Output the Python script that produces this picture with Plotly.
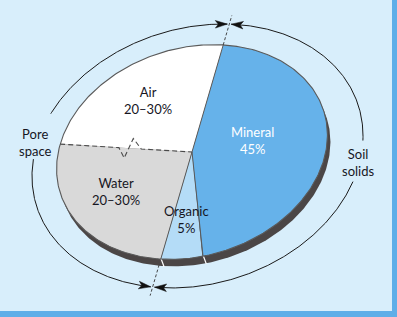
import numpy as np
import plotly.graph_objects as go

# ---- data ----
components = ["Mineral", "Organic", "Water", "Air"]
shares = [45, 5, 25, 25]
share_text = ["45%", "5%", "20–30%", "20–30%"]
groups = ["Soil solids", "Soil solids", "Pore space", "Pore space"]
group_names = ["Pore space", "Soil solids"]

# ---- style / geometry ----
W, H = 397, 317
BG = "#d8eefb"
BORDER = "#5eaee8"
fills = {"Mineral": "#66b2ea", "Organic": "#b4dcf7", "Water": "#d9d9d9", "Air": "#ffffff"}
RIM = "#4b4646"
EDGE = "#5a5a5a"
TXT = "#16161f"
FONT = "Lato"

CX, CY = 192.0, 152.0
A, B, TH = 138.0, 104.0, np.radians(17)
RIM_SHIFT = (3.0, 7.0)
OCX, OCY, OA, OB = 197.5, 156.0, 168.6, 128.0
T0 = np.radians(63.7)  # parametric start angle of the first slice (clockwise)


def ell(t, a, b, cx, cy, th=TH):
    u, v = a * np.cos(t), b * np.sin(t)
    X = u * np.cos(th) - v * np.sin(th)
    Y = u * np.sin(th) + v * np.cos(th)
    return cx + X, cy - Y


def ell_inv(px, py, a, b, cx, cy, th=TH):
    X, Y = px - cx, cy - py
    u = X * np.cos(th) + Y * np.sin(th)
    v = -X * np.sin(th) + Y * np.cos(th)
    return np.arctan2(v / b, u / a), (u / a) ** 2 + (v / b) ** 2


fig = go.Figure()


def poly(xs, ys, fill, line_color=None, lw=0, dash=None):
    fig.add_trace(go.Scatter(
        x=list(xs), y=list(ys), mode="lines",
        fill="toself" if fill else None, fillcolor=fill,
        line=dict(color=line_color or "rgba(0,0,0,0)", width=lw, dash=dash),
        hoverinfo="skip", showlegend=False))


# rim (shifted ellipse)
tt = np.linspace(0, 2 * np.pi, 400)
rx, ry = ell(tt, A, B, CX + RIM_SHIFT[0], CY + RIM_SHIFT[1])
poly(rx, ry, RIM)

# slice boundaries from data
cum = np.concatenate([[0], np.cumsum(shares)]) / sum(shares)
tb = T0 - 2 * np.pi * cum

# white ticks on rim at boundaries (hidden by face where not visible)
for k in range(len(shares)):
    bx, by = ell(tb[k], A, B, CX, CY)
    poly([bx, bx + RIM_SHIFT[0] * 1.1], [by - 1, by + RIM_SHIFT[1] * 1.1], None, "#ffffff", 1.2)

# face slices
for i, name in enumerate(components):
    ts = np.linspace(tb[i], tb[i + 1], 120)
    sx, sy = ell(ts, A, B, CX, CY)
    poly(np.r_[CX, sx, CX], np.r_[CY, sy, CY], fills[name])

# outline of face
fx, fy = ell(tt, A, B, CX, CY)
poly(fx, fy, None, EDGE, 1.1)

# boundary lines
for k in range(len(shares)):
    prev_g = groups[k - 1]
    next_g = groups[k % len(shares)]
    bx, by = ell(tb[k], A, B, CX, CY)
    if prev_g == next_g == "Pore space":
        # dashed boundary with a zigzag (variable boundary)
        d = np.array([CX - bx, CY - by])
        L = np.hypot(*d)
        d /= L
        n = np.array([-d[1], d[0]])
        if n[1] < 0:
            n = -n
        pts = []
        for s, off in [(0, 0), (0.445, 0), (0.49, 10), (0.55, -10), (0.615, 0), (1, 0)]:
            pts.append(np.array([bx, by]) + d * L * s + n * off)
        pts = np.array(pts)
        poly(pts[:, 0], pts[:, 1], None, "#4a4a4a", 1.1, dash="5px,3px")
    else:
        poly([CX, bx], [CY, by], None, EDGE, 1.0)

# group separators: dashed extension lines and outer arcs with arrows
sep = [k for k in range(len(shares)) if groups[k - 1] != groups[k % len(shares)]]

tips = {}
for k in sep:
    bx, by = ell(tb[k], A, B, CX, CY)
    d = np.array([bx - CX, by - CY])
    d /= np.hypot(*d)
    lo, hi = 0.0, 400.0
    for _ in range(60):
        mid = (lo + hi) / 2
        _, f = ell_inv(CX + d[0] * mid, CY + d[1] * mid, OA, OB, OCX, OCY)
        lo, hi = (mid, hi) if f < 1 else (lo, mid)
    s_out = lo
    s_start = np.hypot(bx - CX, by - CY)
    if by > CY:
        s_start += 6
    poly([CX + d[0] * s_start, CX + d[0] * (s_out + 9)],
         [CY + d[1] * s_start, CY + d[1] * (s_out + 9)], None, "#333333", 0.9, dash="3px,2px")
    t_tip, _ = ell_inv(CX + d[0] * s_out, CY + d[1] * s_out, OA, OB, OCX, OCY)
    tips[k] = t_tip

t_top = tips[sep[0]] % (2 * np.pi)
t_bot = tips[sep[1]] % (2 * np.pi)
if t_bot < t_top:
    t_bot += 2 * np.pi
dl = 0.012
arcs = {
    "Pore space": np.linspace(t_top + dl, t_bot - dl, 400),
    "Soil solids": np.linspace(t_top - dl, t_bot - 2 * np.pi + dl, 400),
}
gaps = {"Pore space": (lambda x, y: (x < 90) & (y > 114) & (y < 159)),
        "Soil solids": (lambda x, y: (x > 300) & (y > 141) & (y < 181))}
for g, ts in arcs.items():
    ax, ay = ell(ts, OA, OB, OCX, OCY)
    m = gaps[g](ax, ay)
    ax = ax.astype(object)
    ay = ay.astype(object)
    ax[m] = None
    ay[m] = None
    poly(ax, ay, None, "#1a1a1a", 1.0)
    for end, inward in [(0, 1), (-1, -1)]:
        t_end = ts[end]
        step = (ts[1] - ts[0]) * inward
        tip = np.array(ell(t_end, OA, OB, OCX, OCY))
        back = np.array(ell(t_end + step * 12, OA, OB, OCX, OCY))
        d = tip - back
        d /= np.hypot(*d)
        n = np.array([-d[1], d[0]])
        Lh, wh = 12.0, 3.8
        base = tip - d * Lh
        notch = tip - d * Lh * 0.75
        pts = np.array([tip, base + n * wh, notch, base - n * wh, tip])
        poly(pts[:, 0], pts[:, 1], "#111111", "#111111", 0.5)

# labels
label_pos = {
    "Mineral": (252, 140),
    "Organic": (186, 219),
    "Water": (116, 191),
    "Air": (148, 100),
}
anns = []
for i, name in enumerate(components):
    col = "#ffffff" if name == "Mineral" else TXT
    x, y = label_pos[name]
    anns.append(dict(x=x, y=y, text=f"{name}<br>{share_text[i]}", showarrow=False,
                     font=dict(family=FONT, size=13, color=col),
                     xanchor="center", yanchor="middle", align="center"))
group_pos = {"Pore space": (35, 142), "Soil solids": (358, 162)}
for g in group_names:
    x, y = group_pos[g]
    anns.append(dict(x=x, y=y, text=g.replace(" ", "<br>"), showarrow=False,
                     font=dict(family=FONT, size=13, color=TXT),
                     xanchor="center", yanchor="middle", align="center"))

fig.update_layout(
    width=W, height=H, margin=dict(l=0, r=0, t=0, b=0),
    paper_bgcolor=BG, plot_bgcolor=BG,
    xaxis=dict(range=[0, W], visible=False, fixedrange=True),
    yaxis=dict(range=[H, 0], visible=False, fixedrange=True),
    annotations=anns,
    shapes=[
        dict(type="rect", xref="paper", yref="paper", x0=392 / W, x1=1, y0=0, y1=1,
             fillcolor=BORDER, line_width=0, layer="below"),
        dict(type="rect", xref="paper", yref="paper", x0=0, x1=1, y0=0, y1=(H - 311) / H,
             fillcolor=BORDER, line_width=0, layer="below"),
    ],
    showlegend=False,
)
fig.write_html("out.html", config={"displayModeBar": False})
